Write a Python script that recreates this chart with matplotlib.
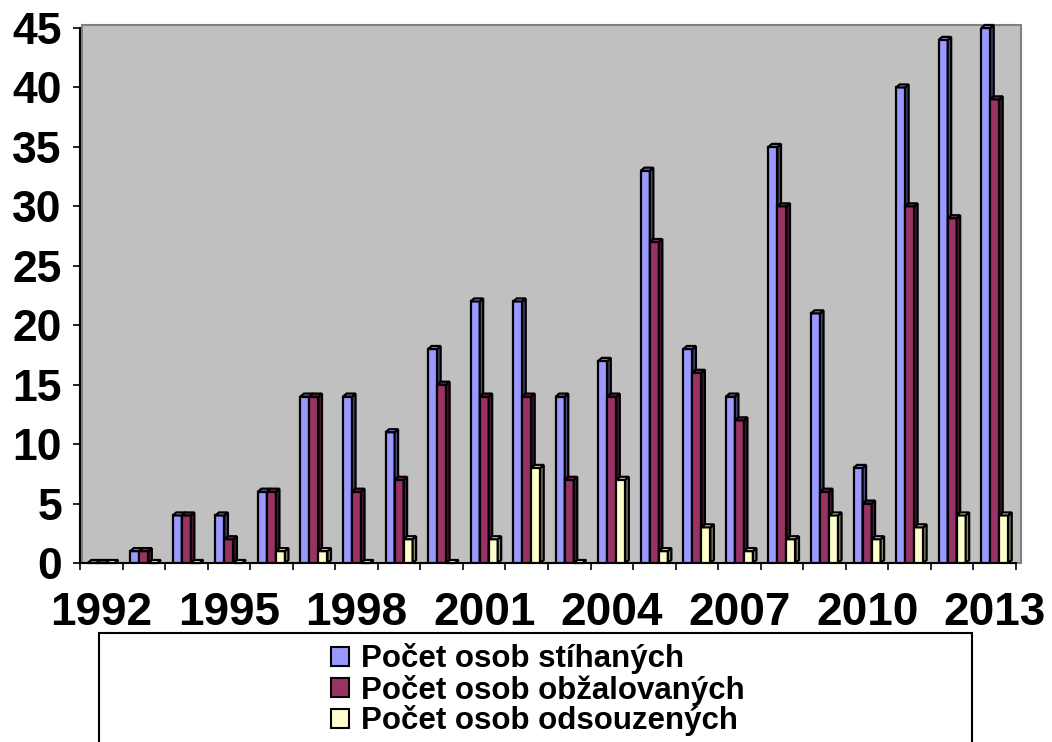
import matplotlib
matplotlib.use("Agg")
import matplotlib.pyplot as plt
from matplotlib.patches import Polygon, Rectangle, Patch
import numpy as np

plt.rcParams["font.family"] = ["Liberation Sans", "DejaVu Sans"]
plt.rcParams["font.weight"] = "bold"

years = list(range(1992, 2014))
stihanych = [0, 1, 4, 4, 6, 14, 14, 11, 18, 22, 22, 14, 17, 33, 18, 14, 35, 21, 8, 40, 44, 45]
obzalovanych = [0, 1, 4, 2, 6, 14, 6, 7, 15, 14, 14, 7, 14, 27, 16, 12, 30, 6, 5, 30, 29, 39]
odsouzenych = [0, 0, 0, 0, 1, 1, 0, 2, 0, 2, 8, 0, 7, 1, 3, 1, 2, 4, 2, 3, 4, 4]
labels = ["Počet osob stíhaných", "Počet osob obžalovaných", "Počet osob odsouzených"]
colors = ["#9999FF", "#993366", "#FFFFCC"]
side_colors = ["#4D4D80", "#4D1A33", "#8A8A6E"]

W, H = 1052, 742
fig = plt.figure(figsize=(W / 100, H / 100), dpi=100)

# plot area in pixels
left, right, bottom, top = 80, 1016, 563, 28
ax = fig.add_axes([left / W, (H - bottom) / H, (right - left) / W, (bottom - top) / H])
ax.patch.set_visible(False)

# grey back wall of the 3D chart
fig.add_artist(Rectangle((82 / W, (H - bottom) / H), (1021 - 82) / W, (bottom - 25) / H,
                         transform=fig.transFigure, facecolor="#C0C0C0",
                         edgecolor="#808080", linewidth=1.5, zorder=-1))

n = len(years)
x = np.arange(n)
px_x = (right - left) / n
px_y = (bottom - top) / 45.0
bw = 9 / px_x
ddx = 3.5 / px_x
ddy = 3.0 / px_y

series = [stihanych, obzalovanych, odsouzenych]
for i, vals in enumerate(series):
    xs = x + (i - 1) * bw
    ax.bar(xs, vals, width=bw, color=colors[i], edgecolor="black", linewidth=1.6,
           zorder=3 + i, label=labels[i])
    for xc, h in zip(xs, vals):
        xl, xr = xc - bw / 2, xc + bw / 2
        side = Polygon([(xr, 0), (xr + ddx, ddy), (xr + ddx, h + ddy), (xr, h)],
                       facecolor=side_colors[i], edgecolor="black", linewidth=1.6,
                       zorder=3 + i, clip_on=False)
        topf = Polygon([(xl, h), (xl + ddx, h + ddy), (xr + ddx, h + ddy), (xr, h)],
                       facecolor=colors[i], edgecolor="black", linewidth=1.6,
                       zorder=3 + i, clip_on=False)
        ax.add_patch(side)
        ax.add_patch(topf)

ax.set_xlim(-0.5, n - 0.5)
ax.set_ylim(0, 45)
ax.set_yticks(range(0, 46, 5))
ax.set_xticks(x[::3])
ax.set_xticklabels([str(y) for y in years[::3]])
ax.set_xticks(np.arange(-0.5, n, 1), minor=True)
ax.tick_params(axis="x", which="major", length=0, pad=20, labelsize=33)
ax.tick_params(axis="x", which="minor", length=5, width=1.2, direction="out")
ax.tick_params(axis="y", length=5, width=1.2, pad=8, labelsize=32)

for s in ["top", "right"]:
    ax.spines[s].set_visible(False)
ax.spines["left"].set_linewidth(1.5)
ax.spines["bottom"].set_linewidth(1.5)

# legend box
fig.add_artist(Rectangle((99 / W, -0.05), (972 - 99) / W, (H - 633) / H + 0.05,
                         transform=fig.transFigure, facecolor="white",
                         edgecolor="black", linewidth=1.5, zorder=1))
handles = [Patch(facecolor=c, edgecolor="black", linewidth=1.5) for c in colors]
leg = fig.legend(handles, labels, loc="center", bbox_to_anchor=(538 / W, 1 - 690 / H),
                 frameon=False, fontsize=22.5, handlelength=0.58, handleheight=0.58,
                 handletextpad=0.4, labelspacing=0.0, borderpad=0)
leg.set_zorder(2)

fig.savefig("out.png", dpi=100)
plt.close(fig)
